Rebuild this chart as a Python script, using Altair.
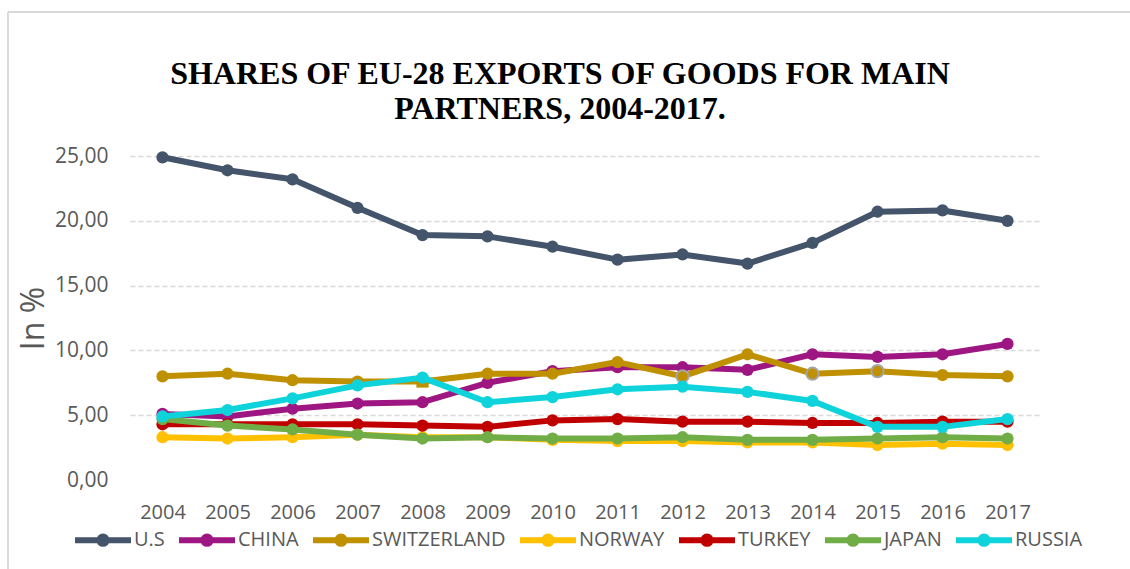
import altair as alt
import pandas as pd

years = [str(y) for y in range(2004, 2018)]
series = ["U.S", "CHINA", "SWITZERLAND", "NORWAY", "TURKEY", "JAPAN", "RUSSIA"]
colors = ["#44546A", "#9E1681", "#BF9000", "#FFC000", "#C00000", "#70AD47", "#0FD3DB"]

us = [24.9, 23.9, 23.2, 21.0, 18.9, 18.8, 18.0, 17.0, 17.4, 16.7, 18.3, 20.7, 20.8, 20.0]
china = [5.1, 4.9, 5.5, 5.9, 6.0, 7.5, 8.4, 8.7, 8.7, 8.5, 9.7, 9.5, 9.7, 10.5]
switzerland = [8.0, 8.2, 7.7, 7.6, 7.6, 8.2, 8.2, 9.1, 8.0, 9.7, 8.2, 8.4, 8.1, 8.0]
norway = [3.3, 3.2, 3.3, 3.5, 3.3, 3.3, 3.1, 3.0, 3.0, 2.9, 2.9, 2.7, 2.8, 2.7]
turkey = [4.3, 4.3, 4.3, 4.3, 4.2, 4.1, 4.6, 4.7, 4.5, 4.5, 4.4, 4.4, 4.5, 4.5]
japan = [4.7, 4.2, 3.9, 3.5, 3.2, 3.3, 3.2, 3.2, 3.3, 3.1, 3.1, 3.2, 3.3, 3.2]
russia = [4.9, 5.4, 6.3, 7.3, 7.9, 6.0, 6.4, 7.0, 7.2, 6.8, 6.1, 4.1, 4.1, 4.7]

square_points = [("SWITZERLAND", "2008")]
gray_outline_points = [("SWITZERLAND", "2012"), ("SWITZERLAND", "2014"), ("SWITZERLAND", "2015")]

values = [us, china, switzerland, norway, turkey, japan, russia]
rows = []
for s, vals in zip(series, values):
    for y, v in zip(years, vals):
        rows.append({
            "year": y, "series": s, "value": v,
            "marker": "square" if (s, y) in square_points else "circle",
            "outline": 1 if (s, y) in gray_outline_points else 0,
        })
df = pd.DataFrame(rows)

W, H = 910, 324
PL, PT = 130, 156
FONT = "Open Sans"

x_enc = alt.X("year:O", sort=years, scale=alt.Scale(type="point", padding=0.5),
              axis=alt.Axis(title=None, domain=False, ticks=False, grid=False,
                            labelAngle=0, labelPadding=22, labelFontSize=20,
                            labelFont=FONT, labelColor="#595959"))
y_enc = alt.Y("value:Q", scale=alt.Scale(domain=[0, 25], nice=False),
              axis=alt.Axis(values=[0, 5, 10, 15, 20, 25], domain=False, ticks=False,
                            labelExpr="replace(format(datum.value, '.2f'), '.', ',')",
                            labelPadding=22, labelFontSize=21, labelFont=FONT, labelColor="#595959",
                            grid=True, gridColor="#D9D9D9", gridDash=[5, 3], gridWidth=1.5,
                            gridOpacity={"condition": {"test": "datum.value === 0", "value": 0}, "value": 1},
                            title="In %", titleFontSize=32, titleFontWeight="normal",
                            titleColor="#595959", titleFont=FONT, titlePadding=4))

legend = alt.Legend(
    title=None, orient="none", direction="horizontal", legendX=-58, legendY=353,
    symbolType="M-1,0L1,0M0.13,0A0.13,0.13,0,1,1,-0.13,0A0.13,0.13,0,1,1,0.13,0Z",
    symbolSize=3136, symbolStrokeWidth=6, labelFontSize=20, labelColor="#595959",
    labelFont=FONT, labelOffset=0, columnPadding=2, padding=0, columns=7,
)
color_scale = alt.Scale(domain=series, range=colors)

layers = []
frame = pd.DataFrame({"a": [0]})
layers.append(alt.Chart(frame).mark_rule(color="#D9D9D9", strokeWidth=2).encode(
    x=alt.value(-122), x2=alt.value(1130 - PL), y=alt.value(-144)))
layers.append(alt.Chart(frame).mark_rule(color="#D9D9D9", strokeWidth=2).encode(
    x=alt.value(-122), y=alt.value(-144), y2=alt.value(569 - PT)))

for s in series:
    base = alt.Chart(df).transform_filter(alt.datum.series == s)
    line = base.mark_line(strokeWidth=6, strokeJoin="round", strokeCap="round").encode(
        x=x_enc, y=y_enc,
        color=alt.Color("series:N", scale=color_scale, sort=series, legend=legend),
    )
    pts = base.mark_point(filled=True, size=150, opacity=1, strokeWidth=2).encode(
        x=x_enc, y=y_enc,
        fill=alt.Fill("series:N", scale=color_scale, sort=series, legend=None),
        shape=alt.Shape("marker:N", scale=alt.Scale(domain=["circle", "square"], range=["circle", "square"]), legend=None),
        stroke=alt.condition(alt.datum.outline == 1, alt.value("#A5A5A5"), alt.value("transparent")),
    )
    layers += [line, pts]

chart = alt.layer(*layers).properties(
    width=W, height=H,
    background="white",
    title=alt.Title(["SHARES OF EU-28 EXPORTS OF GOODS FOR MAIN", "PARTNERS, 2004-2017."],
                    font="Liberation Serif", fontSize=32, fontWeight="bold", color="#000000",
                    anchor="middle", dx=-25, offset=0, dy=115, lineHeight=35),
    autosize=alt.AutoSizeParams(type="none"),
    padding={"left": PL, "top": PT, "right": 1130 - PL - W, "bottom": 569 - PT - H},
).configure_view(stroke="transparent", strokeWidth=0)

chart.save("out.html", embed_options={"renderer": "svg", "actions": False})
